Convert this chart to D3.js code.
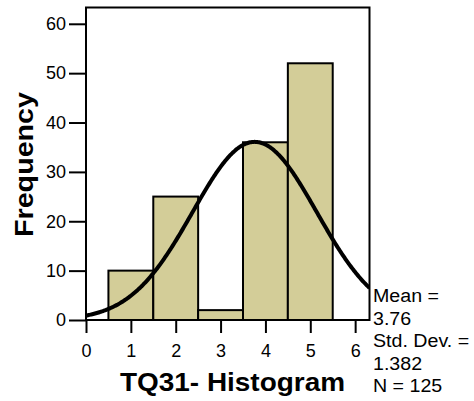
<!DOCTYPE html>
<html><head><meta charset="utf-8">
<script src="https://cdn.jsdelivr.net/npm/d3@7"></script>
<style>body{margin:0;background:#fff}svg{display:block}text{font-family:"Liberation Sans",Arial,sans-serif}</style>
</head><body><svg id="c" width="474" height="401"></svg>
<script>
const binStarts = [0.5, 1.5, 2.5, 3.5, 4.5];
const binEnds   = [1.5, 2.5, 3.5, 4.5, 5.5];
const counts    = [10, 25, 2, 36, 52];
const xTicks = [0, 1, 2, 3, 4, 5, 6];
const yTicks = [0, 10, 20, 30, 40, 50, 60];
const statLines = ["Mean =", "3.76", "Std. Dev. =", "1.382", "N = 125"];
const mean = 3.76, sd = 1.382, n = 125, binWidth = 1;

const svg = d3.select("#c");
const x = d3.scaleLinear().domain([0, 6.32]).range([86, 369.5]);
const y = d3.scaleLinear().domain([0, 63.3]).range([320, 7.5]);

function stretch(sel, f) {
  sel.each(function(){
    const L = this.getComputedTextLength();
    d3.select(this).attr("textLength", L*f).attr("lengthAdjust","spacingAndGlyphs");
  });
}

// bars
svg.append("g").selectAll("rect").data(counts).join("rect")
  .attr("x", (d,i)=>x(binStarts[i])).attr("width", (d,i)=>x(binEnds[i])-x(binStarts[i]))
  .attr("y", d=>y(d)).attr("height", d=>y(0)-y(d))
  .attr("fill", "#d3cd98").attr("stroke", "#000").attr("stroke-width", 2);

// normal curve
const xs = d3.range(0, 6.321, 0.02);
const pdf = v => n*binWidth/(sd*Math.sqrt(2*Math.PI))*Math.exp(-0.5*((v-mean)/sd)**2);
svg.append("clipPath").attr("id","clip").append("rect")
  .attr("x", x(0)).attr("y", y(63.3)).attr("width", x(6.32)-x(0)).attr("height", y(0)-y(63.3));
svg.append("path").datum(xs).attr("clip-path","url(#clip)")
  .attr("d", d3.line().x(d=>x(d)).y(d=>y(pdf(d))).curve(d3.curveBasis))
  .attr("fill","none").attr("stroke","#000").attr("stroke-width",4);

// frame
svg.append("rect").attr("x", x(0)).attr("y", y(63.3)).attr("width", x(6.32)-x(0)).attr("height", y(0)-y(63.3))
  .attr("fill","none").attr("stroke","#000").attr("stroke-width",2);

// axes
const xa = svg.append("g").attr("transform", `translate(0,${y(0)})`)
  .call(d3.axisBottom(x).tickValues(xTicks).tickFormat(d3.format("d")).tickSize(13).tickPadding(11.5));
const ya = svg.append("g").attr("transform", `translate(${x(0)},0)`)
  .call(d3.axisLeft(y).tickValues(yTicks).tickFormat(d3.format("d")).tickSize(17).tickPadding(3));
[xa, ya].forEach(a=>{
  a.select(".domain").remove();
  a.selectAll(".tick line").attr("stroke","#000").attr("stroke-width",2);
  a.selectAll(".tick text").attr("fill","#000").style("font-size","18px").style("font-family","'Liberation Sans',Arial,sans-serif");
});

// axis titles
svg.append("text").attr("x", 232.5).attr("y", 391).attr("text-anchor","middle")
  .attr("textLength", 225).attr("lengthAdjust","spacingAndGlyphs")
  .style("font-size","25px").style("font-weight","bold").text("TQ31- Histogram");
svg.append("text").attr("transform","translate(33,164.5) rotate(-90)").attr("text-anchor","middle")
  .attr("textLength", 145).attr("lengthAdjust","spacingAndGlyphs")
  .style("font-size","25px").style("font-weight","bold").text("Frequency");

// stats
svg.append("g").selectAll("text").data(statLines).join("text")
  .attr("x", 373).attr("y", (d,i)=>302 + i*22.5)
  .style("font-size","18px").text(d=>d)
  .call(stretch, 1.09);
</script></body></html>
